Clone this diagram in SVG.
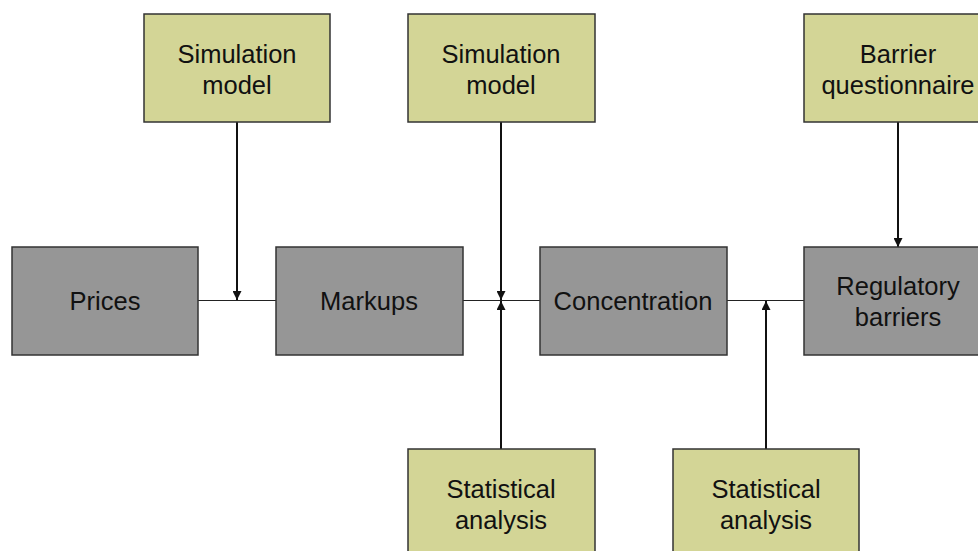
<svg xmlns="http://www.w3.org/2000/svg" width="978" height="551" viewBox="0 0 978 551">
<style>
.src{fill:#d3d596;stroke:#333;stroke-width:1.5}
.mid{fill:#969696;stroke:#333;stroke-width:1.5}
text{font-family:"Liberation Sans",Arial,sans-serif;font-size:25.5px;fill:#111;text-anchor:middle}
.h{stroke:#222;stroke-width:1;fill:none}
.v{stroke:#111;stroke-width:2;fill:none}
</style>
<defs>
<marker id="ah" viewBox="0 0 10 10" refX="10" refY="5" markerWidth="4.5" markerHeight="4.5" orient="auto" markerUnits="strokeWidth">
<path d="M0,0 L10,5 L0,10 z" fill="#111"/>
</marker>
</defs>
<rect width="978" height="551" fill="#fff"/>
<g id="connectors">
<line class="h" x1="198" y1="300.5" x2="276" y2="300.5"/>
<line class="h" x1="463" y1="300.5" x2="540" y2="300.5"/>
<line class="h" x1="727" y1="300.5" x2="804" y2="300.5"/>
<line class="v" x1="237" y1="122" x2="237" y2="300" marker-end="url(#ah)"/>
<line class="v" x1="501" y1="122" x2="501" y2="300" marker-end="url(#ah)"/>
<line class="v" x1="501" y1="449" x2="501" y2="301" marker-end="url(#ah)"/>
<line class="v" x1="766" y1="449" x2="766" y2="301" marker-end="url(#ah)"/>
<line class="v" x1="898" y1="122" x2="898" y2="247" marker-end="url(#ah)"/>
</g>
<g id="sim1"><rect class="src" x="144" y="14" width="186" height="108"/><text x="237" y="63">Simulation</text><text x="237" y="94">model</text></g>
<g id="sim2"><rect class="src" x="408" y="14" width="187" height="108"/><text x="501" y="63">Simulation</text><text x="501" y="94">model</text></g>
<g id="barrier"><rect class="src" x="804" y="14" width="190" height="108"/><text x="898" y="63">Barrier</text><text x="898" y="94">questionnaire</text></g>
<g id="prices"><rect class="mid" x="12" y="247" width="186" height="108"/><text x="105" y="310">Prices</text></g>
<g id="markups"><rect class="mid" x="276" y="247" width="187" height="108"/><text x="369" y="310">Markups</text></g>
<g id="concentration"><rect class="mid" x="540" y="247" width="187" height="108"/><text x="633" y="310">Concentration</text></g>
<g id="regulatory"><rect class="mid" x="804" y="247" width="190" height="108"/><text x="898" y="295">Regulatory</text><text x="898" y="326">barriers</text></g>
<g id="stat1"><rect class="src" x="408" y="449" width="187" height="110"/><text x="501" y="498">Statistical</text><text x="501" y="529">analysis</text></g>
<g id="stat2"><rect class="src" x="673" y="449" width="186" height="110"/><text x="766" y="498">Statistical</text><text x="766" y="529">analysis</text></g>
</svg>
